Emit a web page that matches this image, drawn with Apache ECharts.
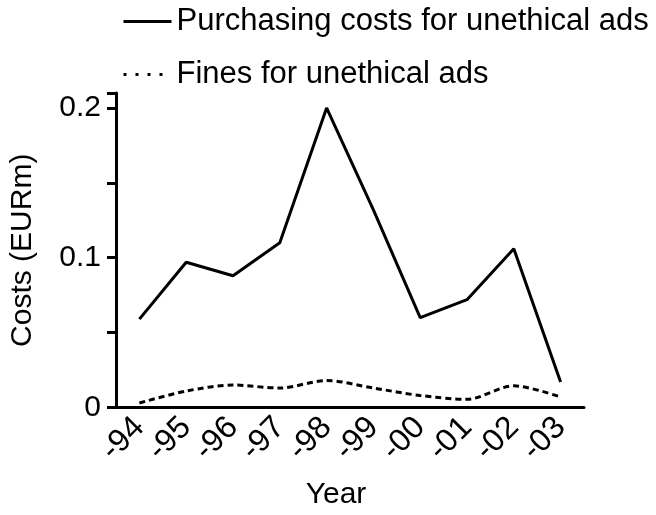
<!DOCTYPE html>
<html>
<head>
<meta charset="utf-8">
<script src="https://cdn.jsdelivr.net/npm/echarts@6/dist/echarts.min.js"></script>
<style>
  html, body { margin: 0; padding: 0; background: #fff; }
  #chart { width: 656px; height: 515px; }
</style>
</head>
<body>
<div id="chart"></div>
<script>
// years on the x axis
const years = ['-94', '-95', '-96', '-97', '-98', '-99', '-00', '-01', '-02', '-03'];
// costs in EURm
const purchasingCosts = [0.059, 0.097, 0.088, 0.110, 0.200, 0.132, 0.060, 0.072, 0.106, 0.017];
const fines = [0.003, 0.011, 0.015, 0.013, 0.018, 0.013, 0.008, 0.0055, 0.0145, 0.007];
const seriesNames = ['Purchasing costs for unethical ads', 'Fines for unethical ads'];

const font = 'Liberation Sans, Arial, sans-serif';
const black = '#000';

const chart = echarts.init(document.getElementById('chart'));

const option = {
  backgroundColor: '#fff',
  animation: false,
  legend: {
    orient: 'vertical',
    left: 117,
    top: 1,
    itemWidth: 48,
    itemHeight: 14,
    itemGap: 22,
    itemStyle: { opacity: 0 },
    textStyle: { fontFamily: font, fontSize: 31, color: black },
    data: [
      { name: seriesNames[0], lineStyle: { type: 'solid', width: 3, color: black } },
      { name: seriesNames[1], lineStyle: { type: [3, 9], width: 3, color: black } }
    ]
  },
  grid: { left: 114, right: 72, top: 93, bottom: 107.5 },
  xAxis: {
    type: 'category',
    data: years,
    boundaryGap: true,
    name: 'Year',
    nameLocation: 'middle',
    nameGap: 72,
    nameTextStyle: { fontFamily: font, fontSize: 30, color: black, padding: [0, 28, 0, 0] },
    axisLine: { lineStyle: { color: black, width: 3 } },
    axisTick: { alignWithLabel: true, length: 10, lineStyle: { color: black, width: 3 } },
    axisLabel: { interval: 0, rotate: 45, margin: 15, fontFamily: font, fontSize: 32, color: black }
  },
  yAxis: {
    type: 'value',
    min: 0,
    max: 0.21,
    interval: 0.05,
    name: 'Costs (EURm)',
    nameLocation: 'middle',
    nameGap: 78,
    nameTextStyle: { fontFamily: font, fontSize: 30, color: black },
    splitLine: { show: false },
    axisLine: { show: true, lineStyle: { color: black, width: 3 } },
    axisTick: { show: true, length: 9, lineStyle: { color: black, width: 3 } },
    axisLabel: {
      margin: 15,
      fontFamily: font,
      fontSize: 30,
      color: black,
      formatter: function (v) {
        const r = Math.round(v * 100);
        return r % 10 === 0 ? String(r / 100) : '';
      }
    }
  },
  series: [
    {
      name: seriesNames[0],
      type: 'line',
      data: purchasingCosts,
      symbol: 'none',
      lineStyle: { color: black, width: 3, type: 'solid' },
      itemStyle: { color: black }
    },
    {
      name: seriesNames[1],
      type: 'line',
      data: fines,
      symbol: 'none',
      smooth: 0.3,
      lineStyle: { color: black, width: 3, type: [6, 4] },
      itemStyle: { color: black }
    }
  ]
};

chart.setOption(option);
</script>
</body>
</html>
